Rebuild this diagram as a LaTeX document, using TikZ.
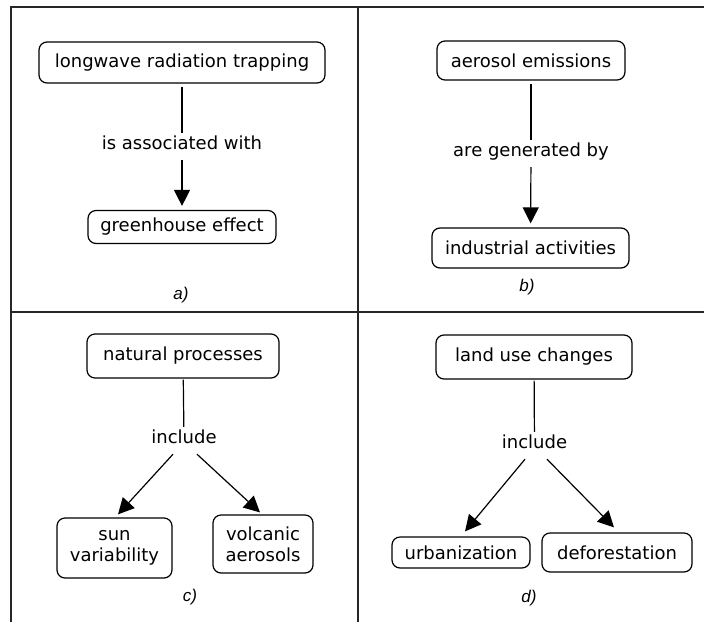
\documentclass[tikz,border=0pt]{standalone}
\usepackage{fontspec}
\setmainfont{DejaVu Sans}
\newfontfamily\capfont{Liberation Sans}
\usetikzlibrary{arrows.meta,calc}

\tikzset{
  concept/.style={draw=black, line width=1.2pt, rounded corners=8pt, fill=white,
    align=center, inner sep=0pt, font=\fontsize{18}{21}\selectfont},
  linkword/.style={inner sep=0pt, minimum height=27pt, text height=0.75em, text depth=0.25em,
    font=\fontsize{18}{21}\selectfont},
  link/.style={line width=1.2pt, draw=black, shorten <=3pt},
  linkarr/.style={link, -{Triangle[length=16pt,width=16pt]}, shorten >=4pt},
  panelcap/.style={font=\capfont\itshape\fontsize{17}{19}\selectfont, inner sep=0pt},
  frame/.style={line width=2pt, draw=black!85},
}

\begin{document}
\begin{tikzpicture}[x=1pt,y=-1pt]
  \useasboundingbox (0,0) rectangle (704,622);

  % panel frames
  \draw[frame] (11,622) -- (11,7) -- (704,7);
  \draw[frame] (358,7) -- (358,622);
  \draw[frame] (11,312) -- (704,312);

  % a) longwave radiation
  \node[concept, minimum width=286pt, minimum height=41pt] (lrt) at (182,62.5) {longwave radiation trapping};
  \node[linkword] (assoc) at (182,146.5) {is associated with};
  \node[concept, minimum width=188pt, minimum height=33pt] (ghe) at (182,227) {greenhouse effect};
  \draw[link] (lrt) -- (assoc);
  \draw[linkarr, shorten <=0pt] (assoc) -- (ghe);
  \node[panelcap] (capa) at (181,295) {a)};

  % b) aerosol emissions
  \node[concept, minimum width=188pt, minimum height=39pt] (aer) at (531,60.5) {aerosol emissions};
  \node[linkword] (gen) at (531,153.5) {are generated by};
  \node[concept, minimum width=197pt, minimum height=40pt] (ind) at (530.5,248) {industrial activities};
  \draw[link] (aer) -- (gen);
  \draw[linkarr, shorten <=0pt] (gen) -- (ind);
  \node[panelcap] (capb) at (527,287) {b)};

  % c) natural processes
  \node[concept, minimum width=192pt, minimum height=44pt] (nat) at (183,356) {natural processes};
  \node[linkword] (incc) at (184,440.5) {include};
  \node[concept, minimum width=115pt, minimum height=60pt] (sun) at (114.5,548) {sun\\variability};
  \node[concept, minimum width=100pt, minimum height=58pt] (volc) at (263,544) {volcanic\\aerosols};
  \draw[link, shorten <=1pt] (nat) -- (incc);
  \draw[linkarr, shorten <=0pt, shorten >=0pt] ($(incc.south)+(-11,0)$) -- ($(sun.north)+(3.5,-3)$);
  \draw[linkarr, shorten <=0pt, shorten >=0pt] ($(incc.south)+(13,0)$) -- ($(volc.north)+(-3,-2)$);
  \node[panelcap] (capc) at (190,597) {c)};

  % d) land use changes
  \node[concept, minimum width=196pt, minimum height=44pt] (land) at (534,357) {land use changes};
  \node[linkword] (incd) at (534.5,445.5) {include};
  \node[concept, minimum width=138pt, minimum height=31pt] (urb) at (461,552.5) {urbanization};
  \node[concept, minimum width=150pt, minimum height=39pt] (defo) at (617,552.5) {deforestation};
  \draw[link, shorten <=1pt] (land) -- (incd);
  \draw[linkarr, shorten <=0pt, shorten >=0pt] ($(incd.south)+(-9.5,0)$) -- ($(urb.north)+(4,-5)$);
  \draw[linkarr, shorten <=0pt, shorten >=0pt] ($(incd.south)+(12.5,0)$) -- ($(defo.north)+(-3,-5)$);
  \node[panelcap] (capd) at (529,598) {d)};
\end{tikzpicture}
\end{document}
